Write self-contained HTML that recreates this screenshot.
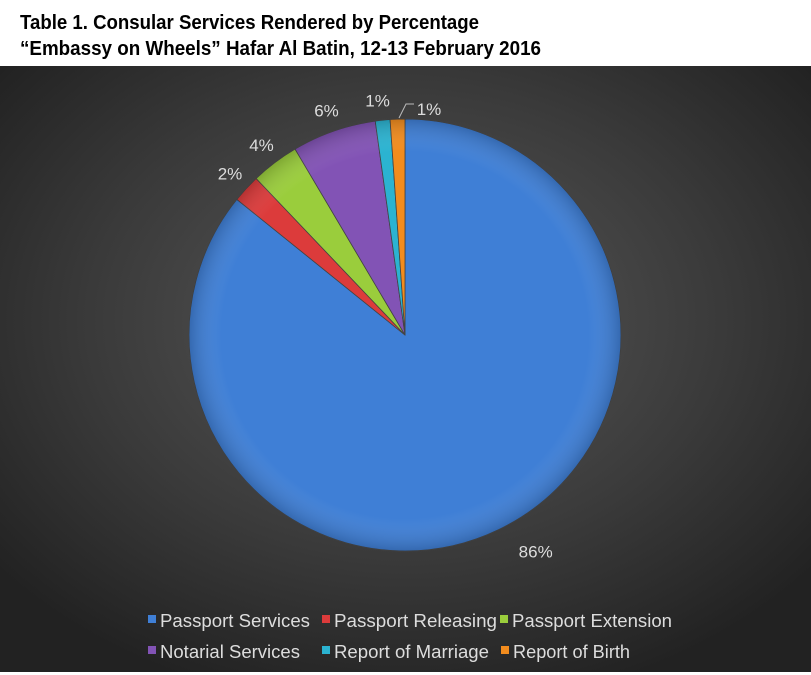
<!DOCTYPE html>
<html><head><meta charset="utf-8"><style>
html,body{margin:0;padding:0;background:#fff;}
svg{display:block;}
text{font-family:"Liberation Sans",sans-serif;}
</style></head><body>
<svg width="811" height="675" viewBox="0 0 811 675">
<defs>
<radialGradient id="bg" cx="0.5" cy="0.42" r="0.65">
<stop offset="0" stop-color="#5a5a5a"/><stop offset="0.6" stop-color="#3a3a3a"/><stop offset="1" stop-color="#222"/>
</radialGradient>
<radialGradient id="shade" cx="0.5" cy="0.5" r="0.5">
<stop offset="0.85" stop-color="#fff" stop-opacity="0"/><stop offset="1" stop-color="#000" stop-opacity="0.18"/>
</radialGradient>
</defs>
<text x="20" y="29" font-family="'Liberation Sans Narrow','Liberation Sans',sans-serif" font-weight="bold" font-size="20" textLength="459" lengthAdjust="spacingAndGlyphs">Table 1. Consular Services Rendered by Percentage</text>
<text x="20" y="55" font-family="'Liberation Sans Narrow','Liberation Sans',sans-serif" font-weight="bold" font-size="20" textLength="521" lengthAdjust="spacingAndGlyphs">“Embassy on Wheels” Hafar Al Batin, 12-13 February 2016</text>
<rect x="0" y="66" width="811" height="606" fill="url(#bg)"/>
<g id="slices"></g>
<circle cx="405" cy="335" r="216" fill="url(#shade)" pointer-events="none"/>
<g id="labels"></g>
<polyline points="399,118 406,104 414,104" fill="none" stroke="#bbb" stroke-width="1"/>
<g id="legend"></g>
</svg>
<script>
const categories=["Passport Services","Passport Releasing","Passport Extension","Notarial Services","Report of Marriage","Report of Birth"];
const values=[85.8,2.1,3.6,6.3,1.1,1.1];
const valueLabels=["86%","2%","4%","6%","1%","1%"];
const colors=["#3f7fd6","#dc3b3b","#9acd3c","#8253b5","#2bb3d1","#f28c1e"];
const NS="http://www.w3.org/2000/svg";
const cx=405,cy=335,R=216;
const total=values.reduce((a,b)=>a+b,0);
function pt(a,r){return [cx+r*Math.sin(a),cy-r*Math.cos(a)];}
const sg=document.getElementById('slices'),lg=document.getElementById('labels');
let a0=0;
values.forEach((v,i)=>{
 const a1=a0+v/total*2*Math.PI;
 const p0=pt(a0,R),p1=pt(a1,R);
 const large=(a1-a0)>Math.PI?1:0;
 const p=document.createElementNS(NS,'path');
 p.setAttribute('d',`M${cx},${cy}L${p0[0]},${p0[1]}A${R},${R} 0 ${large} 1 ${p1[0]},${p1[1]}Z`);
 p.setAttribute('fill',colors[i]);
 p.setAttribute('stroke','#444');p.setAttribute('stroke-width','0.8');
 
 
 sg.appendChild(p);
 const m=(a0+a1)/2;
 let lp;
 if(i===0){lp=pt(m,R+22);lp=[lp[0]+28,lp[1]+2];}
 else if(i===5){lp=[429,109];}
 else if(i===4){lp=pt(m,R+20);lp=[lp[0]-3,lp[1]];}
 else lp=pt(m,R+22);
 const t=document.createElementNS(NS,'text');
 t.setAttribute('x',lp[0]);t.setAttribute('y',lp[1]+6);
 t.setAttribute('text-anchor','middle');t.setAttribute('font-size','17');t.setAttribute('fill','#ddd');
 
 
 t.textContent=valueLabels[i];
 lg.appendChild(t);
 a0=a1;
});
const leg=document.getElementById('legend');
const legPos=[[148,620],[322,620],[500,620],[148,651],[322,651],[501,651]];
const legW=[150,163,160,140,155,117];
categories.forEach((c,i)=>{
 const g=document.createElementNS(NS,'g');
 
 
 const r=document.createElementNS(NS,'rect');
 r.setAttribute('x',legPos[i][0]);r.setAttribute('y',legPos[i][1]-5);r.setAttribute('width',8);r.setAttribute('height',8);
 r.setAttribute('fill',colors[i]);
 g.appendChild(r);
 const t=document.createElementNS(NS,'text');
 t.setAttribute('x',legPos[i][0]+12);t.setAttribute('y',legPos[i][1]+7);
 t.setAttribute('font-size','18');t.setAttribute('fill','#ddd');
 t.setAttribute('textLength',legW[i]);t.setAttribute('lengthAdjust','spacingAndGlyphs');
 t.textContent=c;
 g.appendChild(t);
 leg.appendChild(g);
});
</script>
</body></html>
